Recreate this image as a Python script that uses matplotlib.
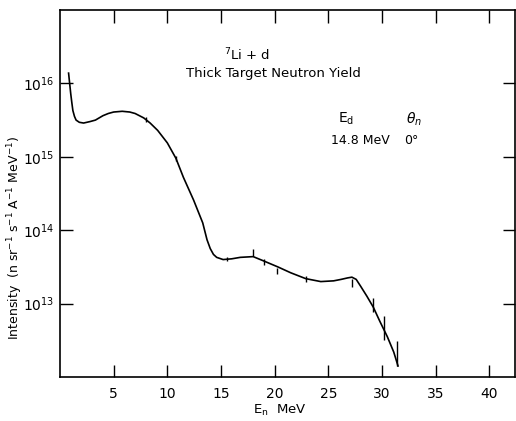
import numpy as np
import matplotlib.pyplot as plt
from matplotlib.ticker import NullLocator, FixedLocator

# neutron energy (MeV) and log10 intensity
energy = [0.8, 0.9, 1.0, 1.1, 1.2, 1.35, 1.5, 1.8, 2.2, 2.8, 3.3, 4.0, 4.5, 5.0, 5.8,
          6.5, 7.0, 7.8, 8.4, 9.1, 10.0, 10.8, 11.5, 12.45, 13.3, 13.7, 14.0, 14.3,
          14.6, 15.2, 16.0, 16.8, 18.0, 19.0, 20.3, 21.5, 22.9, 24.3, 25.5, 26.2,
          26.8, 27.2, 27.6, 28.0, 28.6, 29.2, 29.8, 30.5, 31.1, 31.5]
log_yield = [16.14, 16.00, 15.86, 15.74, 15.63, 15.55, 15.50, 15.47, 15.46, 15.48,
             15.50, 15.56, 15.59, 15.61, 15.62, 15.61, 15.59, 15.53, 15.46, 15.36,
             15.19, 14.98, 14.72, 14.41, 14.10, 13.87, 13.75, 13.67, 13.63, 13.60,
             13.61, 13.63, 13.64, 13.58, 13.50, 13.42, 13.34, 13.30, 13.31, 13.33,
             13.35, 13.36, 13.33, 13.24, 13.10, 12.95, 12.76, 12.55, 12.34, 12.15]

# measured points shown as short vertical bars (log10 low / high)
err_x = [8.0, 10.8, 15.6, 18.0, 19.0, 20.2, 22.9, 27.2, 29.2, 30.2, 31.4]
err_lo = [15.47, 14.94, 13.58, 13.65, 13.53, 13.40, 13.30, 13.23, 12.89, 12.51, 12.15]
err_hi = [15.54, 15.01, 13.63, 13.74, 13.61, 13.48, 13.37, 13.33, 13.08, 12.83, 12.49]

xticks = [5, 10, 15, 20, 25, 30, 35, 40]
yticks = [13, 14, 15, 16]

fig = plt.figure(figsize=(5.16, 4.21), dpi=100)
ax = fig.add_axes([60 / 516, 44 / 421, 455 / 516, 367 / 421])

ax.plot(energy, 10 ** np.array(log_yield), color='black', lw=1.2)
ax.vlines(err_x, 10 ** np.array(err_lo), 10 ** np.array(err_hi), color='black', lw=1.0)

ax.set_yscale('log')
ax.set_xlim(0, 42.4)
ax.set_ylim(1e12, 1e17)
ax.xaxis.set_major_locator(FixedLocator(xticks))
ax.yaxis.set_major_locator(FixedLocator([10.0 ** p for p in yticks]))
ax.yaxis.set_minor_locator(NullLocator())
ax.set_xticklabels([str(t) for t in xticks])
ax.set_yticklabels([f'$10^{{{p}}}$' for p in yticks])
ax.tick_params(direction='in', length=9, width=1.0, top=True, right=True,
               labelsize=10, colors='black', pad=4)
ax.tick_params(axis='x', pad=7)
for s in ax.spines.values():
    s.set_linewidth(1.2)

fig.text(247 / 516, 1 - 55 / 421, '$^{7}$Li + d', ha='center', va='center', fontsize=9.5)
fig.text(273 / 516, 1 - 74 / 421, 'Thick Target Neutron Yield', ha='center', va='center',
         fontsize=9.5)
fig.text(346 / 516, 1 - 119 / 421, '$\\mathregular{E_d}$', ha='center', va='center', fontsize=10)
fig.text(414 / 516, 1 - 119 / 421, '$\\theta_n$', ha='center', va='center', fontsize=10)
fig.text(360 / 516, 1 - 141 / 421, '14.8 MeV', ha='center', va='center', fontsize=9)
fig.text(411 / 516, 1 - 141 / 421, '0°', ha='center', va='center', fontsize=9)
fig.text(280 / 516, 1 - 410 / 421, '$\\mathregular{E_n}$  MeV', ha='center', va='center',
         fontsize=9.5)
fig.text(15 / 516, 1 - 238 / 421,
         'Intensity  (n sr$^{-1}$ s$^{-1}$ A$^{-1}$ MeV$^{-1}$)',
         ha='center', va='center', rotation=90, fontsize=9)

fig.savefig('out.png', dpi=100)
